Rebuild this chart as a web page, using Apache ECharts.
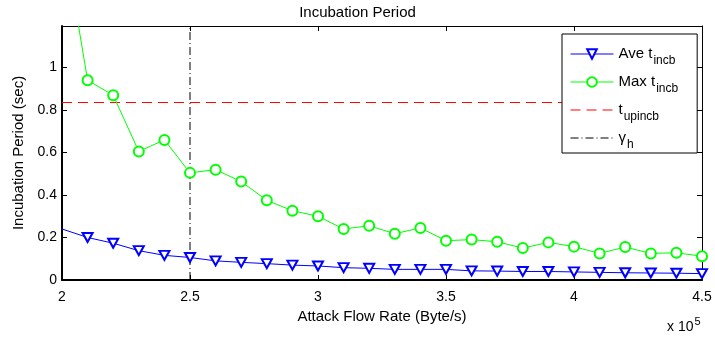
<!DOCTYPE html>
<html>
<head>
<meta charset="utf-8">
<script src="https://cdn.jsdelivr.net/npm/echarts@6/dist/echarts.min.js"></script>
<style>
  html, body { margin: 0; padding: 0; background: #fff; }
  #chart { width: 715px; height: 337px; }
</style>
</head>
<body>
<div id="chart"></div>
<script>
// Attack flow rate (x 10^5 Byte/s)
const flowRate = [2.0, 2.1, 2.2, 2.3, 2.4, 2.5, 2.6, 2.7, 2.8, 2.9, 3.0, 3.1, 3.2, 3.3,
                  3.4, 3.5, 3.6, 3.7, 3.8, 3.9, 4.0, 4.1, 4.2, 4.3, 4.4, 4.5];
// Average incubation period (sec)
const aveIncb = [0.24, 0.2, 0.173, 0.138, 0.116, 0.106, 0.09, 0.083, 0.077, 0.07, 0.066, 0.058,
                 0.055, 0.05, 0.05, 0.05, 0.043, 0.042, 0.04, 0.04, 0.038, 0.036, 0.034, 0.033,
                 0.032, 0.03];
// Maximum incubation period (sec)
const maxIncb = [1.66, 0.94, 0.869, 0.605, 0.659, 0.504, 0.519, 0.463, 0.375, 0.326, 0.3, 0.24,
                 0.255, 0.218, 0.245, 0.185, 0.19, 0.18, 0.15, 0.177, 0.157, 0.125, 0.155, 0.125,
                 0.128, 0.112];
// Upper bound of incubation period and threshold rate
const tUpIncb = 0.835;
const gammaH = 2.5;
const xTicks = [2, 2.5, 3, 3.5, 4, 4.5];
const yTicks = [0, 0.2, 0.4, 0.6, 0.8, 1];
const xMin = 2, xMax = 4.5, yMin = 0, yMax = 1.195;

const FONT = 'Liberation Sans, Arial, Helvetica, sans-serif';

const chart = echarts.init(document.getElementById('chart'), null, { renderer: 'canvas' });

function pairs(xs, ys) {
  return xs.map((x, i) => {
    const item = { value: [x, ys[i]] };
    if (i === 0) item.symbol = 'none';
    return item;
  });
}

const legendRich = {
  m: { fontFamily: FONT, fontSize: 15, color: '#000', lineHeight: 16 },
  s: { fontFamily: FONT, fontSize: 12, color: '#000', lineHeight: 13, padding: [14, 0, 0, 1] }
};
const legendLabels = {
  'Ave': '{m|Ave t}{s|incb}',
  'Max': '{m|Max t}{s|incb}',
  'Up': '{m|t}{s|upincb}',
  'Gamma': '{m|\u03b3}{s|h}'
};
// line-only legend entries: hide the marker drawn in the middle of the icon
const noMarker = { color: 'transparent', borderColor: 'transparent', borderWidth: 0 };

const axisCommon = {
  axisLine: { show: true, onZero: false, lineStyle: { color: '#000', width: 1 } },
  axisTick: { show: true, inside: true, length: 5, lineStyle: { color: '#000', width: 1 } },
  splitLine: { show: false }
};

chart.setOption({
  animation: false,
  backgroundColor: '#fff',
  title: {
    text: 'Incubation Period',
    left: 'center',
    top: 0,
    textStyle: { fontFamily: FONT, fontSize: 15, fontWeight: 'normal', color: '#000' }
  },
  grid: { left: 62, right: 13, top: 26, bottom: 57, containLabel: false },
  legend: {
    orient: 'vertical',
    left: 562,
    top: 34,
    itemWidth: 43,
    itemHeight: 12,
    itemGap: 2,
    padding: [7, 19, 2, 8],
    backgroundColor: '#fff',
    borderColor: '#000',
    borderWidth: 1,
    lineStyle: { width: 1 },
    itemStyle: { borderWidth: 1 },
    data: [
      { name: 'Ave' },
      { name: 'Max' },
      { name: 'Up', itemStyle: noMarker },
      { name: 'Gamma', itemStyle: noMarker }
    ],
    formatter: name => legendLabels[name],
    textStyle: { rich: legendRich, color: '#000' }
  },
  xAxis: [
    Object.assign({}, axisCommon, {
      type: 'value', min: xMin, max: xMax, interval: 0.5, position: 'bottom',
      axisLine: { show: true, onZero: false, lineStyle: { color: '#000', width: 2 } },
      axisLabel: { margin: 10, fontFamily: FONT, fontSize: 14, color: '#000',
                   formatter: v => String(v) },
      name: 'Attack Flow Rate (Byte/s)',
      nameLocation: 'middle',
      nameGap: 28,
      nameTextStyle: { fontFamily: FONT, fontSize: 15, color: '#000' }
    }),
    Object.assign({}, axisCommon, {
      type: 'value', min: xMin, max: xMax, interval: 0.5, position: 'top',
      axisLabel: { show: false }
    })
  ],
  yAxis: [
    Object.assign({}, axisCommon, {
      type: 'value', min: yMin, max: yMax, interval: 0.2, position: 'left',
      axisLine: { show: true, onZero: false, lineStyle: { color: '#000', width: 2 } },
      axisLabel: { margin: 5, fontFamily: FONT, fontSize: 14, color: '#000',
                   showMaxLabel: false,
                   formatter: v => (yTicks.indexOf(Math.round(v * 10) / 10) >= 0 ? String(Math.round(v * 10) / 10) : '') },
      name: 'Incubation Period (sec)',
      nameLocation: 'middle',
      nameGap: 36,
      nameTextStyle: { fontFamily: FONT, fontSize: 15, color: '#000' }
    }),
    Object.assign({}, axisCommon, {
      type: 'value', min: yMin, max: yMax, interval: 0.2, position: 'right',
      axisLabel: { show: false }
    })
  ],
  graphic: [{
    type: 'text',
    left: 667,
    top: 316,
    style: {
      text: '{a|x 10}{b|5}',
      rich: {
        a: { fontFamily: FONT, fontSize: 14, fill: '#000', padding: [6, 0, 0, 0] },
        b: { fontFamily: FONT, fontSize: 11, fill: '#000', padding: [0, 0, 6, 1] }
      }
    }
  }],
  series: [
    {
      name: 'Ave', type: 'line',
      data: pairs(flowRate, aveIncb),
      symbol: 'emptyTriangle', symbolRotate: 180, symbolSize: [10, 9],
      itemStyle: { color: '#0000ff', borderWidth: 1 },
      lineStyle: { color: '#0000ff', width: 1 },
      clip: true, z: 4
    },
    {
      name: 'Max', type: 'line',
      data: pairs(flowRate, maxIncb),
      symbol: 'emptyCircle', symbolSize: 10,
      itemStyle: { color: '#00ff00', borderWidth: 1 },
      lineStyle: { color: '#00ff00', width: 1 },
      clip: true, z: 4
    },
    {
      name: 'Up', type: 'line',
      data: [[xMin, tUpIncb], [xMax, tUpIncb]],
      symbol: 'none',
      lineStyle: { color: '#ff0000', width: 1, type: [10, 6] },
      itemStyle: { color: '#ff0000' },
      z: 3
    },
    {
      name: 'Gamma', type: 'line',
      data: [[gammaH, yMin], [gammaH, yMax]],
      symbol: 'none',
      lineStyle: { color: '#000', width: 1, type: [8, 3, 1, 3] },
      itemStyle: { color: '#000' },
      z: 3
    }
  ]
});
</script>
</body>
</html>
